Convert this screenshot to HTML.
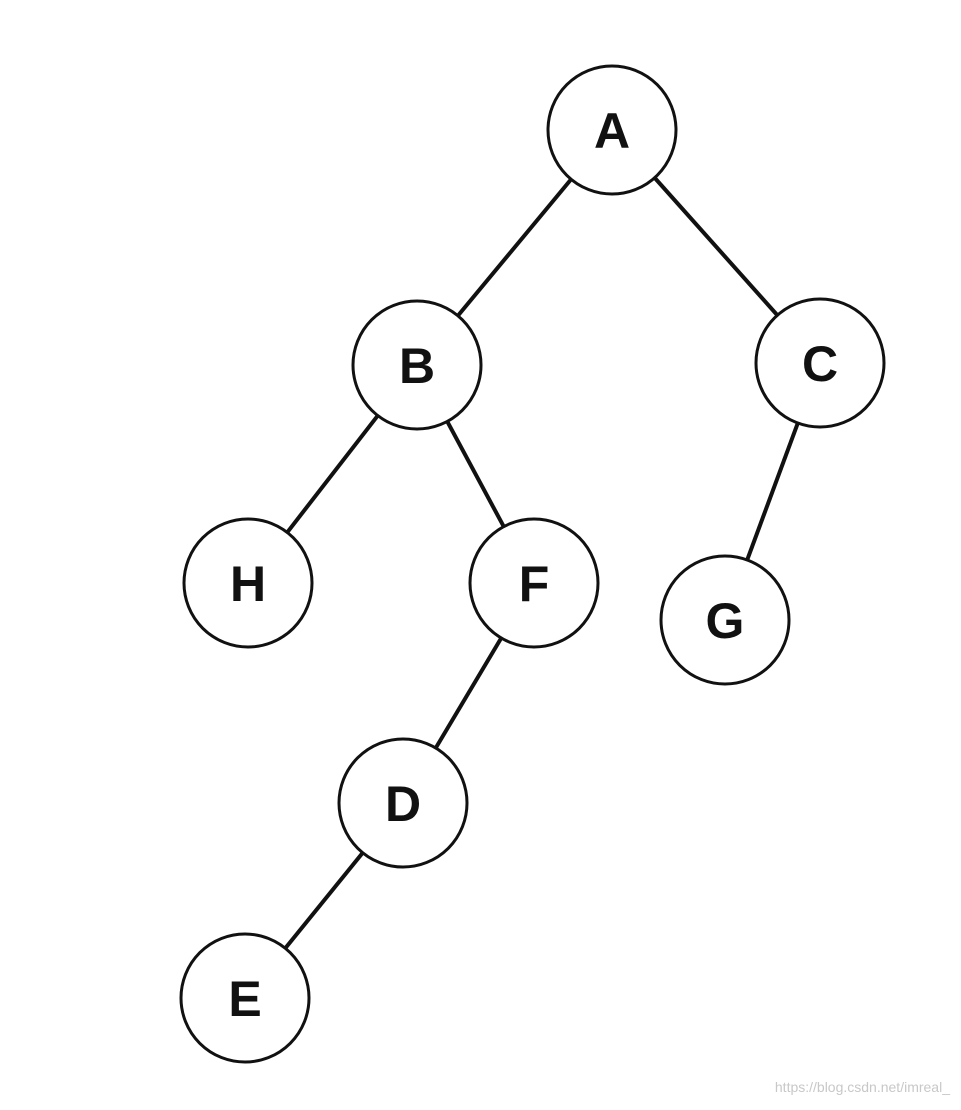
<!DOCTYPE html>
<html><head><meta charset="utf-8">
<style>
html,body{margin:0;padding:0;background:#fff;}
svg{display:block;}
</style></head>
<body>
<svg id="tree" width="961" height="1110" viewBox="0 0 961 1110" xmlns="http://www.w3.org/2000/svg">
<rect width="961" height="1110" fill="#fff"/>
<g id="edges"></g>
<g id="nodes"></g>
<text x="950" y="1092" text-anchor="end" font-family="Liberation Sans, sans-serif" font-size="14" fill="#c8c8c8">https://blog.csdn.net/imreal_</text>
</svg>
<script>
const nodeLabels = ["A","B","C","H","F","G","D","E"];
const nodeX = [612,417,820,248,534,725,403,245];
const nodeY = [130,365,363,583,583,620,803,998];
const edgeFrom = ["A","A","B","B","C","F","D"];
const edgeTo   = ["B","C","H","F","G","D","E"];
const R = 64;
const NS = "http://www.w3.org/2000/svg";
const eg = document.getElementById('edges');
const ng = document.getElementById('nodes');
function idx(l){return nodeLabels.indexOf(l);}
for (let i=0;i<edgeFrom.length;i++){
  const a=idx(edgeFrom[i]), b=idx(edgeTo[i]);
  const dx=nodeX[b]-nodeX[a], dy=nodeY[b]-nodeY[a], d=Math.hypot(dx,dy);
  const ux=dx/d, uy=dy/d;
  const ln=document.createElementNS(NS,'line');
  ln.setAttribute('x1',nodeX[a]+ux*R); ln.setAttribute('y1',nodeY[a]+uy*R);
  ln.setAttribute('x2',nodeX[b]-ux*R); ln.setAttribute('y2',nodeY[b]-uy*R);
  ln.setAttribute('stroke','#111'); ln.setAttribute('stroke-width','4');
  
  
  eg.appendChild(ln);
}
for (let i=0;i<nodeLabels.length;i++){
  const c=document.createElementNS(NS,'circle');
  c.setAttribute('cx',nodeX[i]); c.setAttribute('cy',nodeY[i]); c.setAttribute('r',R);
  c.setAttribute('fill','#fff'); c.setAttribute('stroke','#111'); c.setAttribute('stroke-width','3');
  
  
  ng.appendChild(c);
  const t=document.createElementNS(NS,'text');
  t.setAttribute('x',nodeX[i]); t.setAttribute('y',nodeY[i]+18);
  t.setAttribute('text-anchor','middle');
  t.setAttribute('font-family','Liberation Sans, Arial, sans-serif');
  t.setAttribute('font-weight','bold'); t.setAttribute('font-size','50');
  t.setAttribute('fill','#111');
  
  
  t.textContent=nodeLabels[i];
  ng.appendChild(t);
}
</script>
</body></html>
